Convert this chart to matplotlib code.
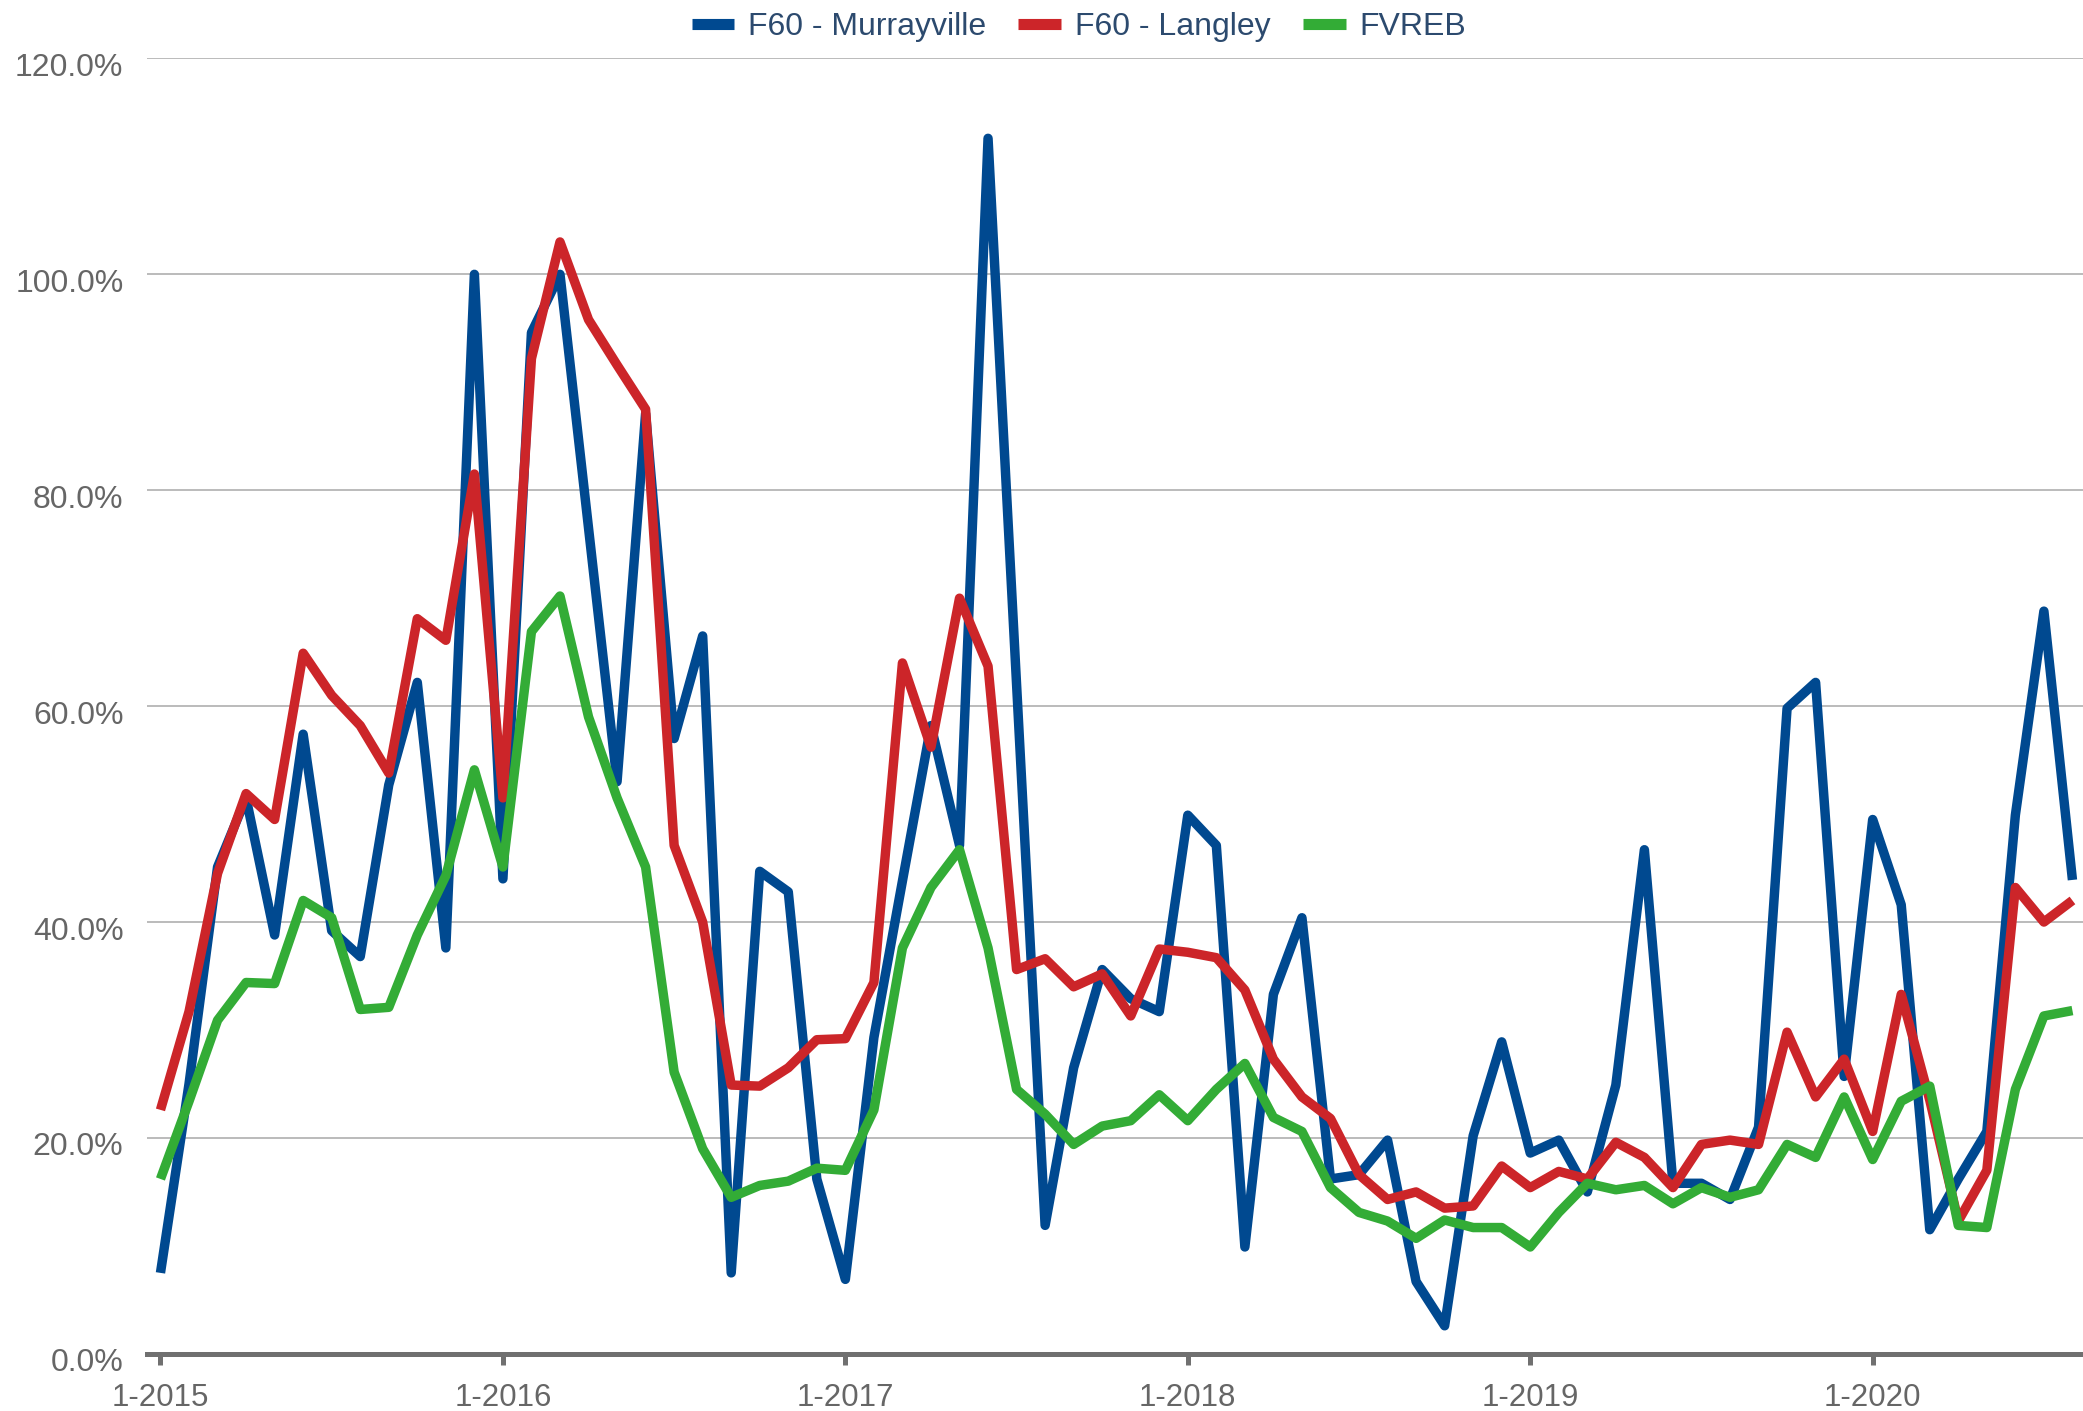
import numpy as np
import matplotlib
matplotlib.use("Agg")
import matplotlib.pyplot as plt
import matplotlib.transforms as mtransforms

plt.rcParams['font.family'] = ['Liberation Sans', 'DejaVu Sans']

tick_labels = ["1-2015", "1-2016", "1-2017", "1-2018", "1-2019", "1-2020"]
series_names = ["F60 - Murrayville", "F60 - Langley", "FVREB"]

murrayville = [7.5, 25, 45.1, 51.5, 38.8, 57.4, 39.2, 36.8, 52.7, 62.2, 37.6, 100,
               44, 94.6, 100, 76.5, 53, 87.1, 57, 66.5, 7.5, 44.7, 42.8, 16.2,
               6.9, 29.3, 43.8, 58.2, 47.1, 112.6, 62, 11.9, 26.5, 35.6, 32.9, 31.7,
               49.9, 47.1, 9.9, 33.3, 40.4, 16.2, 16.6, 19.8, 6.7, 2.6, 20.2, 28.9,
               18.6, 19.8, 15, 24.9, 46.7, 15.8, 15.8, 14.3, 21, 59.8, 62.2, 25.7,
               49.5, 41.6, 11.5, 16.2, 20.6, 49.9, 68.8, 43.9]

langley = [22.6, 31.7, 44.5, 51.9, 49.5, 64.9, 61, 58.2, 53.8, 68.1, 66.1, 81.5,
           51.5, 92.2, 103, 95.8, 91.6, 87.5, 47.1, 40, 24.9, 24.8, 26.5, 29.1,
           29.2, 34.4, 64, 56.2, 70, 63.7, 35.6, 36.6, 34, 35.2, 31.3, 37.5,
           37.2, 36.7, 33.7, 27.3, 23.8, 21.8, 16.6, 14.3, 15, 13.5, 13.7, 17.4,
           15.4, 16.9, 16.2, 19.6, 18.2, 15.4, 19.4, 19.8, 19.4, 29.8, 23.8, 27.3,
           20.6, 33.3, 23.5, 12.3, 17, 43.2, 40, 42]

fvreb = [16.2, 23.4, 30.9, 34.4, 34.3, 42, 40.4, 31.9, 32.1, 38.8, 44.3, 54.1,
         45.1, 66.9, 70.2, 59, 51.5, 45.1, 26.1, 19, 14.5, 15.6, 16, 17.2,
         17, 22.6, 37.6, 43.2, 46.7, 37.6, 24.5, 22.2, 19.4, 21.1, 21.6, 24,
         21.6, 24.5, 26.9, 21.9, 20.6, 15.4, 13.1, 12.3, 10.7, 12.4, 11.7, 11.7,
         9.9, 13.1, 15.8, 15.2, 15.6, 13.9, 15.4, 14.5, 15.2, 19.4, 18.2, 23.8,
         18, 23.4, 24.8, 11.9, 11.7, 24.5, 31.3, 31.8]

colors = ["#004990", "#cc2529", "#33ac36"]

fig = plt.figure(figsize=(20.83, 14.11), dpi=100)
ax = fig.add_axes([0.0706, 0.0405, 0.9294, 0.9181])

x = np.arange(len(murrayville))
for data, c, name in zip([murrayville, langley, fvreb], colors, series_names):
    ax.plot(x, data, color=c, lw=6.8, label=name, solid_joinstyle='round',
            solid_capstyle='butt', clip_on=False)

ax.set_xlim(-0.47, 67.37)
ax.set_ylim(0, 120)
yt = np.arange(0, 121, 20)
ax.set_yticks(yt)
ax.set_yticklabels([f"{v:.1f}%" for v in yt])
ax.set_xticks(np.arange(0, 12 * len(tick_labels), 12))
ax.set_xticklabels(tick_labels)

ax.grid(axis='y', color='#b5b5b5', lw=1.3)
ax.set_axisbelow(True)
for s in ['top', 'right', 'left']:
    ax.spines[s].set_visible(False)
ax.spines['bottom'].set_color('#707070')
ax.spines['bottom'].set_linewidth(3.6)
ax.spines['bottom'].set_zorder(5)
ax.tick_params(axis='y', length=0, pad=17, labelsize=23, labelcolor='#666666')
ax.tick_params(axis='x', length=8, width=3.6, color='#707070', pad=13,
               labelsize=22.5, labelcolor='#666666')

offset = mtransforms.ScaledTranslation(0, -0.06, fig.dpi_scale_trans)
for lbl in ax.get_yticklabels():
    lbl.set_transform(lbl.get_transform() + offset)

leg = fig.legend(loc='center', bbox_to_anchor=(0.518, 0.9807), ncol=3, frameon=False,
                 fontsize=23, handlelength=1.34, handletextpad=0.44, columnspacing=1.0)
for h in leg.get_lines():
    h.set_linewidth(8)
    h.set_solid_capstyle('butt')
for t in leg.get_texts():
    t.set_color('#2c4a6e')

fig.savefig("out.png", dpi=100)
